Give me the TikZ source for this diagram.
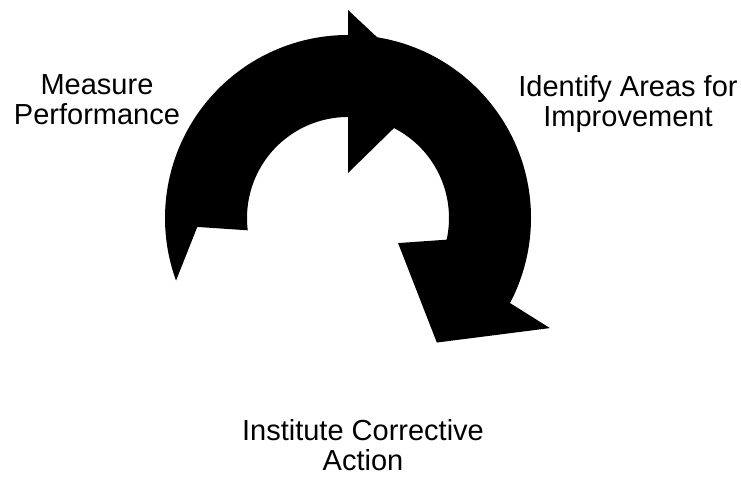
\documentclass[tikz,border=0pt]{standalone}
\usepackage{fontspec}
\setmainfont{Liberation Sans}
\usepackage{tikz}
\usetikzlibrary{calc,positioning}
\tikzset{
  cyc/arrow/.style={fill=black, draw=none},
  cyc/label/.style={align=center, inner sep=0pt, font=\fontsize{29}{30}\selectfont},
}

\begin{document}
\begin{tikzpicture}[x=1pt, y=1pt]
  \useasboundingbox (0,0) rectangle (741,478);
  \coordinate (hub) at (348,260);

  % measure -> identify
  \fill[cyc/arrow] ($(hub)+(200:183)$) arc[start angle=200, end angle=90, radius=183]
    -- ($(hub)+(90:208)$) -- ($(hub)+(56.4:154)$) -- ($(hub)+(90:45)$)
    -- ($(hub)+(90:101)$) arc[start angle=90, end angle=187, radius=101]
    -- ($(hub)+(183.4:151)$) -- cycle;
  % identify -> institute
  \fill[cyc/arrow] ($(hub)+(90:183)$) arc[start angle=90, end angle=-27.7, radius=183]
    -- ($(hub)+(-28.6:230)$) -- ($(hub)+(-54.5:153)$) -- ($(hub)+(-26.6:56)$)
    -- ($(hub)+(-12.4:101)$) arc[start angle=-12.4, end angle=90, radius=101] -- cycle;

  \node[cyc/label] (measure) at (97,378) {Measure\\Performance};
  \node[cyc/label] (identify) at (628,374) {Identify Areas for\\Improvement};
  \node[cyc/label] (institute) at (363,33) {Institute Corrective\\Action};
\end{tikzpicture}
\end{document}
